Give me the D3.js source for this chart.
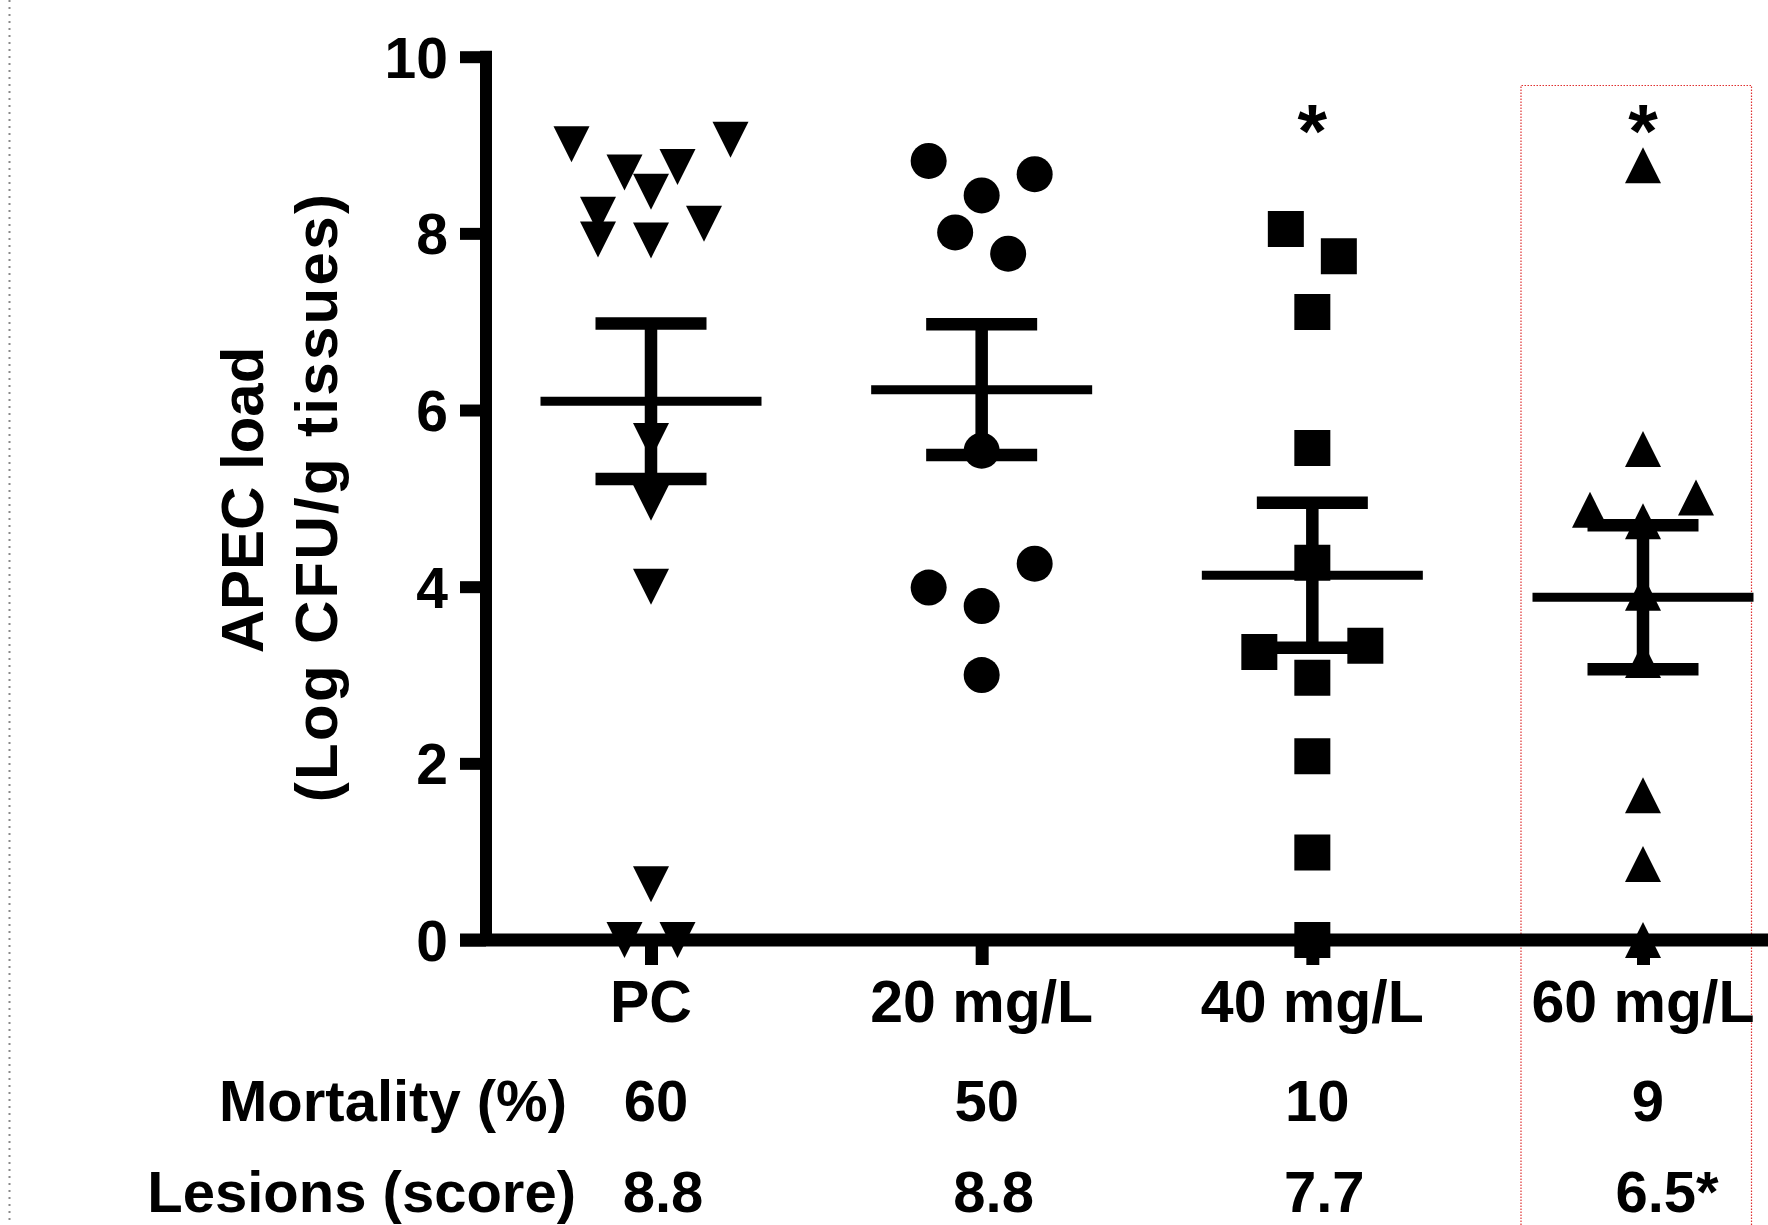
<!DOCTYPE html>
<html>
<head>
<meta charset="utf-8">
<script src="https://cdn.jsdelivr.net/npm/d3@7"></script>
<style>
  body { margin: 0; background: #fff; }
  text { font-family: "Liberation Sans", Arial, sans-serif; font-weight: bold; fill: #000; }
</style>
</head>
<body>
<svg id="chart"></svg>
<script>
var width = 1768,
    height = 1225;

// groups and per-group readouts
var groups = ['PC', '20 mg/L', '40 mg/L', '60 mg/L'];
var shapes = ['triangleDown', 'circle', 'square', 'triangleUp'];

// APEC load per bird (log CFU/g)
var pcValues   = [9.01, 8.69, 8.75, 9.06, 8.47, 8.21, 7.93, 7.92, 8.11, 5.65, 4.95, 4.0, 0.63, 0, 0];
var mg20Values = [8.82, 8.67, 8.43, 8.01, 7.77, 5.54, 3.99, 4.26, 3.78, 3.0];
var mg40Values = [8.05, 7.74, 7.11, 5.57, 4.27, 3.26, 3.33, 2.97, 2.08, 0.99, 0];
var mg60Values = [8.77, 5.56, 4.87, 5.01, 4.74, 3.93, 3.17, 1.64, 0.86, 0];

// horizontal scatter slot of each point (how the points are spread in a column)
var pcSlots   = [-3, -1, 1, 3, 0, -2, -2, 0, 2, 0, 0, 0, 0, -1, 1];
var mg20Slots = [-2, 2, 0, -1, 1, 0, -2, 2, 0, 0];
var mg40Slots = [-1, 1, 0, 0, 0, -2, 2, 0, 0, 0, 0];
var mg60Slots = [0, 0, -2, 2, 0, 0, 0, 0, 0, 0];

var means = [6.10, 6.23, 4.13, 3.88];
var sems  = [0.88, 0.74, 0.82, 0.815];
var stars = ['', '', '*', '*'];

var mortality = ['60', '50', '10', '9'];
var lesions   = ['8.8', '8.8', '7.7', '6.5*'];

var yTicks = [0, 2, 4, 6, 8, 10];

var allValues = [pcValues, mg20Values, mg40Values, mg60Values];
var allSlots  = [pcSlots, mg20Slots, mg40Slots, mg60Slots];

var svg = d3.select('#chart')
  .attr('width', width)
  .attr('height', height);

svg.append('rect')
  .attr('width', width)
  .attr('height', height)
  .attr('fill', '#fff');

var x = d3.scalePoint()
  .domain(groups)
  .range([651, 1643]);

var y = d3.scaleLinear()
  .domain([0, 10])
  .range([940, 56.7]);

var slotW = 26.5,
    mk = 36;

// left dotted page border
svg.append('line')
  .attr('x1', 9.5).attr('x2', 9.5)
  .attr('y1', 0).attr('y2', height)
  .attr('stroke', '#8a8a8a')
  .attr('stroke-width', 2)
  .attr('stroke-dasharray', '2 5');

// red dotted box around 60 mg/L
svg.append('path')
  .attr('d', 'M1521,' + height + 'V85.5H1751.5V' + height)
  .attr('fill', 'none')
  .attr('stroke', '#e03030')
  .attr('stroke-width', 1.2)
  .attr('stroke-dasharray', '1.5 1.5');

// y axis
var yAxis = d3.axisLeft(y)
  .tickValues(yTicks)
  .tickFormat(d3.format('d'))
  .tickSize(26)
  .tickSizeOuter(0)
  .tickPadding(12);

var gy = svg.append('g')
  .attr('transform', 'translate(486,0)')
  .call(yAxis);
gy.select('.domain')
  .attr('d', 'M0,' + (y(10) - 6) + 'V' + (y(0) + 6))
  .attr('stroke', '#000')
  .attr('stroke-width', 12);
gy.selectAll('.tick line')
  .attr('stroke', '#000')
  .attr('stroke-width', 12);
gy.selectAll('.tick text')
  .style('font-size', '57px')
  .attr('dy', '0.36em');

// x axis (runs to the page edge)
var xAxis = d3.axisBottom(x)
  .tickSize(25)
  .tickSizeOuter(0)
  .tickFormat('');
var gx = svg.append('g')
  .attr('transform', 'translate(0,' + y(0) + ')')
  .call(xAxis);
gx.select('.domain')
  .attr('d', 'M460,0H' + width)
  .attr('stroke', '#000')
  .attr('stroke-width', 13);
gx.selectAll('.tick line')
  .attr('stroke', '#000')
  .attr('stroke-width', 13);

// group labels
svg.append('g').selectAll('text')
  .data(groups)
  .join('text')
  .attr('x', d => x(d))
  .attr('y', 1022)
  .attr('text-anchor', 'middle')
  .style('font-size', '59px')
  .text(d => d);

// y title, two lines
svg.append('text')
  .attr('transform', 'translate(263,500) rotate(-90)')
  .attr('text-anchor', 'middle')
  .style('font-size', '60px')
  .text('APEC load');
svg.append('text')
  .attr('transform', 'translate(337,497) rotate(-90)')
  .attr('text-anchor', 'middle')
  .style('font-size', '60px')
  .style('letter-spacing', '2.3px')
  .text('(Log CFU/g tissues)');

// marker paths
function markerPath(shape) {
  var h = mk / 2;
  if (shape === 'triangleDown') return 'M' + (-h) + ',' + (-h) + 'H' + h + 'L0,' + h + 'Z';
  if (shape === 'triangleUp') return 'M' + (-h) + ',' + h + 'H' + h + 'L0,' + (-h) + 'Z';
  if (shape === 'square') return 'M' + (-h) + ',' + (-h) + 'h' + mk + 'v' + mk + 'h' + (-mk) + 'Z';
  return d3.symbol(d3.symbolCircle, Math.PI * h * h)();
}

var points = [];
groups.forEach(function(g, i) {
  allValues[i].forEach(function(v, j) {
    points.push({group: g, shape: shapes[i], value: v, slot: allSlots[i][j]});
  });
});

svg.append('g').selectAll('path')
  .data(points)
  .join('path')
  .attr('transform', d => 'translate(' + (x(d.group) + d.slot * slotW) + ',' + y(d.value) + ')')
  .attr('d', d => markerPath(d.shape))
  .attr('fill', '#000');

// mean +/- SEM bars
var bars = svg.append('g').selectAll('g')
  .data(groups)
  .join('g');

bars.append('line')
  .attr('x1', d => x(d) - 110.5)
  .attr('x2', d => x(d) + 110.5)
  .attr('y1', (d, i) => y(means[i]))
  .attr('y2', (d, i) => y(means[i]))
  .attr('stroke', '#000')
  .attr('stroke-width', 9);

bars.append('line')
  .attr('x1', d => x(d))
  .attr('x2', d => x(d))
  .attr('y1', (d, i) => y(means[i] + sems[i]))
  .attr('y2', (d, i) => y(means[i] - sems[i]))
  .attr('stroke', '#000')
  .attr('stroke-width', 12.5);

[1, -1].forEach(function(sign) {
  bars.append('line')
    .attr('x1', d => x(d) - 55.5)
    .attr('x2', d => x(d) + 55.5)
    .attr('y1', (d, i) => y(means[i] + sign * sems[i]))
    .attr('y2', (d, i) => y(means[i] + sign * sems[i]))
    .attr('stroke', '#000')
    .attr('stroke-width', 12.5);
});

// significance stars
svg.append('g').selectAll('text')
  .data(groups)
  .join('text')
  .attr('x', d => x(d))
  .attr('y', 157)
  .attr('text-anchor', 'middle')
  .style('font-size', '76px')
  .text((d, i) => stars[i]);

// table rows under the axis
svg.append('text')
  .attr('x', 567)
  .attr('y', 1121)
  .attr('text-anchor', 'end')
  .style('font-size', '58px')
  .text('Mortality (%)');
svg.append('text')
  .attr('x', 576)
  .attr('y', 1212)
  .attr('text-anchor', 'end')
  .style('font-size', '58px')
  .text('Lesions (score)');

svg.append('g').selectAll('text')
  .data(groups)
  .join('text')
  .attr('x', d => x(d) + 5)
  .attr('y', 1121)
  .attr('text-anchor', 'middle')
  .style('font-size', '58px')
  .text((d, i) => mortality[i]);

svg.append('g').selectAll('text')
  .data(groups)
  .join('text')
  .attr('x', (d, i) => x(d) + (lesions[i].indexOf('*') > -1 ? 24 : 12))
  .attr('y', 1212)
  .attr('text-anchor', 'middle')
  .style('font-size', '58px')
  .text((d, i) => lesions[i]);
</script>
</body>
</html>
